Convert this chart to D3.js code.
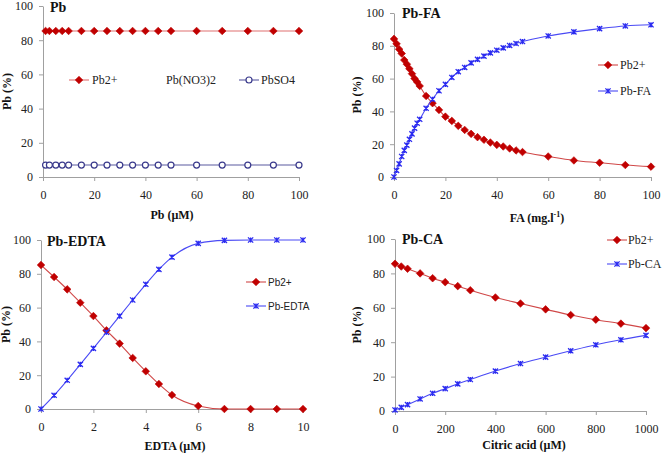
<!DOCTYPE html>
<html><head><meta charset="utf-8">
<script src="https://cdn.jsdelivr.net/npm/d3@7"></script>
<style>body{margin:0;background:#fff}svg{display:block}
.serif{font-family:"Liberation Serif","Times New Roman","DejaVu Serif",serif}
.sans{font-family:"Liberation Sans",Arial,sans-serif}
</style>
</head><body>
<svg id="c" width="667" height="459"></svg>
<script>
// ---------- Data ----------
// Panel 1: Pb alone
const pbConc   = [1, 2.5, 5, 7.5, 10, 15, 20, 25, 30, 35, 40, 45, 50, 60, 70, 80, 90, 100];
const pbFree1  = [85.4, 85.4, 85.4, 85.4, 85.4, 85.4, 85.4, 85.4, 85.4, 85.4, 85.4, 85.4, 85.4, 85.4, 85.4, 85.4, 85.4, 85.4];
const pbSO4    = [7, 7, 7, 7, 7, 7, 7, 7, 7, 7, 7, 7, 7, 7, 7, 7, 7, 7];
// Panel 2: Pb-FA
const faConc   = [0, 1, 2, 3, 4, 5, 6, 7, 8, 9, 10, 12.5, 15, 17.5, 20, 22.5, 25, 27.5, 30, 32.5, 35, 37.5, 40, 42.5, 45, 47.5, 50, 60, 70, 80, 90, 100];
const faFree   = [84.2, 81.2, 77.9, 75.3, 71.3, 68.8, 66.0, 63.0, 60.0, 58.0, 55.5, 49.4, 45.0, 40.9, 36.8, 34.2, 31.2, 28.7, 26.3, 24.3, 22.7, 21.0, 19.6, 18.6, 17.4, 16.2, 15.2, 12.5, 10.1, 8.7, 7.3, 6.3];
const faBound  = [0, 4.0, 8.0, 12.5, 16.2, 19.4, 23.0, 26.3, 29.8, 32.8, 35.2, 41.9, 47.4, 52.6, 56.5, 60.7, 64.2, 66.8, 69.6, 71.7, 73.7, 75.7, 77.3, 78.7, 80.2, 81.4, 82.6, 86.0, 88.5, 90.5, 92.1, 92.8];
// Panel 3: Pb-EDTA
const edtaConc = [0, 0.5, 1, 1.5, 2, 2.5, 3, 3.5, 4, 4.5, 5, 6, 7, 8, 9, 10];
const edtaFree = [85.2, 78.1, 70.8, 62.9, 55.0, 46.5, 38.7, 30.2, 22.3, 14.8, 8.3, 1.8, 0, 0, 0, 0];
const edtaBound= [0, 8.1, 17.0, 26.4, 35.9, 45.4, 55.0, 64.5, 73.8, 82.6, 89.9, 98.0, 99.8, 100, 100, 100];
// Panel 4: Pb-CA
const caConc   = [0, 25, 50, 100, 150, 200, 250, 300, 400, 500, 600, 700, 800, 900, 1000];
const caFree   = [85.6, 84.0, 82.7, 80.0, 77.2, 74.9, 72.6, 70.2, 66.0, 62.5, 59.1, 55.8, 53.1, 50.8, 48.2];
const caBound  = [0.6, 2.1, 3.7, 7.0, 10.3, 13.0, 15.8, 18.3, 23.2, 27.6, 31.3, 35.0, 38.5, 41.4, 44.0];

const yTicks = [0, 20, 40, 60, 80, 100];
const xTicks1 = [0, 20, 40, 60, 80, 100];
const xTicks2 = [0, 20, 40, 60, 80, 100];
const xTicks3 = [0, 2, 4, 6, 8, 10];
const xTicks4 = [0, 200, 400, 600, 800, 1000];

// ---------- Styles ----------
const RED = "#c00000", REDLINE = "#d04848";
const BLUE = "#2b2bf0", BLUELINE = "#4a4af5";
const NAVY = "#3a3a8c", NAVYLINE = "#5a5aa0";

const svg = d3.select("#c");

function marker(g, type, x, y, color) {
  if (type === "diamond") {
    const s = 3.8;
    g.append("path").attr("d", `M${x},${y-s}L${x+s},${y}L${x},${y+s}L${x-s},${y}Z`)
      .attr("fill", color).attr("stroke", color).attr("stroke-width", 0.6);
  } else if (type === "star") {
    const s = 2.6;
    g.append("path").attr("d", `M${x-s},${y-s}L${x+s},${y+s}M${x-s},${y+s}L${x+s},${y-s}M${x},${y-s}L${x},${y+s}`)
      .attr("stroke", color).attr("stroke-width", 1.3).attr("fill", "none");
  } else if (type === "circle") {
    g.append("circle").attr("cx", x).attr("cy", y).attr("r", 3)
      .attr("fill", "#fff").attr("stroke", color).attr("stroke-width", 1.2);
  }
}

function panel(cfg) {
  const g = svg.append("g");
  const x = d3.scaleLinear().domain(cfg.xDomain).range([cfg.left, cfg.right]);
  const y = d3.scaleLinear().domain([0, 100]).range([cfg.bottom, cfg.top]);

  const xa = g.append("g").attr("transform", `translate(0,${cfg.bottom})`)
    .call(d3.axisBottom(x).tickValues(cfg.xTicks).tickFormat(d3.format("d")).tickSize(4).tickSizeOuter(0).tickPadding(9));
  const ya = g.append("g").attr("transform", `translate(${cfg.left},0)`)
    .call(d3.axisLeft(y).tickValues(yTicks).tickFormat(d3.format("d")).tickSize(4).tickSizeOuter(0).tickPadding(6));
  [xa, ya].forEach(a => {
    a.attr("font-family", null).attr("font-size", null);
    a.select(".domain").attr("stroke", "#a0a0a0");
    a.selectAll(".tick line").attr("stroke", "#a0a0a0");
    a.selectAll(".tick text").attr("class", "serif").style("font-size", "12px").attr("fill", "#222");
  });

  // panel title
  g.append("text").attr("class", "serif").attr("x", cfg.titleX).attr("y", cfg.titleY).text(cfg.title)
    .style("font-weight", "bold").style("font-size", "14px").attr("fill", "#111");
  // y axis title
  g.append("text").attr("class", "serif").attr("transform", `translate(${cfg.yTitleX},${(cfg.top + cfg.bottom) / 2}) rotate(-90)`)
    .attr("text-anchor", "middle").style("font-weight", "bold")
    .style("font-size", "12px").attr("fill", "#111").text("Pb (%)");
  // x axis title
  const xt = g.append("text").attr("class", "serif").attr("x", cfg.xTitleX).attr("y", cfg.xTitleY)
    .attr("text-anchor", "middle").style("font-weight", "bold")
    .style("font-size", "12px").attr("fill", "#111");
  cfg.xTitle(xt);

  cfg.series.forEach(s => {
    const pts = s.xs.map((d, i) => [x(d), y(s.ys[i])]);
    g.append("path").attr("d", d3.line().curve(d3.curveMonotoneX)(pts))
      .attr("fill", "none").attr("stroke", s.line).attr("stroke-width", 1.1);
    pts.forEach(p => marker(g, s.marker, p[0], p[1], s.color));
  });

  // legend
  cfg.legend.forEach(l => {
    if (l.line) {
      g.append("line").attr("x1", l.x).attr("x2", l.x + 20).attr("y1", l.y).attr("y2", l.y)
        .attr("stroke", l.line).attr("stroke-width", 1.1);
      marker(g, l.marker, l.x + 10, l.y, l.color);
    }
    g.append("text").attr("class", cfg.legendFont).attr("x", l.tx).attr("y", l.y + 4).text(l.label)
      .style("font-size", cfg.legendSize + "px").attr("fill", "#222");
  });
}

// Panel 1
panel({
  left: 43, right: 299, top: 6, bottom: 177, xDomain: [0, 100], xTicks: xTicks1,
  title: "Pb", titleX: 50, titleY: 12, yTitleX: 11, xTitleX: 172, xTitleY: 219,
  xTitle: t => t.text("Pb (\u00b5M)"),
  series: [
    { xs: pbConc, ys: pbFree1, marker: "diamond", color: RED, line: "#e07070" },
    { xs: pbConc, ys: pbSO4, marker: "circle", color: NAVY, line: NAVYLINE }
  ],
  legendFont: "serif", legendSize: 12,
  legend: [
    { label: "Pb2+", x: 69, y: 80, tx: 92, marker: "diamond", color: RED, line: "#e07070" },
    { label: "Pb(NO3)2", x: 146, y: 80, tx: 166, marker: null, color: null, line: null },
    { label: "PbSO4", x: 239, y: 80, tx: 261, marker: "circle", color: NAVY, line: NAVYLINE }
  ]
});

// Panel 2
panel({
  left: 394, right: 651, top: 13, bottom: 177, xDomain: [0, 100], xTicks: xTicks2,
  title: "Pb-FA", titleX: 402, titleY: 18, yTitleX: 361, xTitleX: 537, xTitleY: 222,
  xTitle: t => {
    t.append("tspan").text("FA (mg.l");
    t.append("tspan").text("-1").style("font-size", "8px").attr("dy", -5);
    t.append("tspan").text(")").attr("dy", 5);
  },
  series: [
    { xs: faConc, ys: faFree, marker: "diamond", color: RED, line: REDLINE },
    { xs: faConc, ys: faBound, marker: "star", color: BLUE, line: BLUELINE }
  ],
  legendFont: "serif", legendSize: 12,
  legend: [
    { label: "Pb2+", x: 598, y: 65, tx: 620, marker: "diamond", color: RED, line: REDLINE },
    { label: "Pb-FA", x: 598, y: 91, tx: 620, marker: "star", color: BLUE, line: BLUELINE }
  ]
});

// Panel 3
panel({
  left: 41, right: 303, top: 240, bottom: 409, xDomain: [0, 10], xTicks: xTicks3,
  title: "Pb-EDTA", titleX: 47, titleY: 246, yTitleX: 10, xTitleX: 175, xTitleY: 450,
  xTitle: t => t.text("EDTA (\u00b5M)"),
  series: [
    { xs: edtaConc, ys: edtaFree, marker: "diamond", color: RED, line: REDLINE },
    { xs: edtaConc, ys: edtaBound, marker: "star", color: BLUE, line: BLUELINE }
  ],
  legendFont: "sans", legendSize: 10,
  legend: [
    { label: "Pb2+", x: 246, y: 282, tx: 268, marker: "diamond", color: RED, line: REDLINE },
    { label: "Pb-EDTA", x: 246, y: 306, tx: 268, marker: "star", color: BLUE, line: BLUELINE }
  ]
});

// Panel 4
panel({
  left: 395, right: 646, top: 239, bottom: 411, xDomain: [0, 1000], xTicks: xTicks4,
  title: "Pb-CA", titleX: 402, titleY: 244, yTitleX: 361, xTitleX: 524, xTitleY: 449,
  xTitle: t => t.text("Citric acid (\u00b5M)"),
  series: [
    { xs: caConc, ys: caFree, marker: "diamond", color: RED, line: REDLINE },
    { xs: caConc, ys: caBound, marker: "star", color: BLUE, line: BLUELINE }
  ],
  legendFont: "serif", legendSize: 12,
  legend: [
    { label: "Pb2+", x: 607, y: 240, tx: 628, marker: "diamond", color: RED, line: REDLINE },
    { label: "Pb-CA", x: 607, y: 264, tx: 628, marker: "star", color: BLUE, line: BLUELINE }
  ]
});
</script>
</body></html>
